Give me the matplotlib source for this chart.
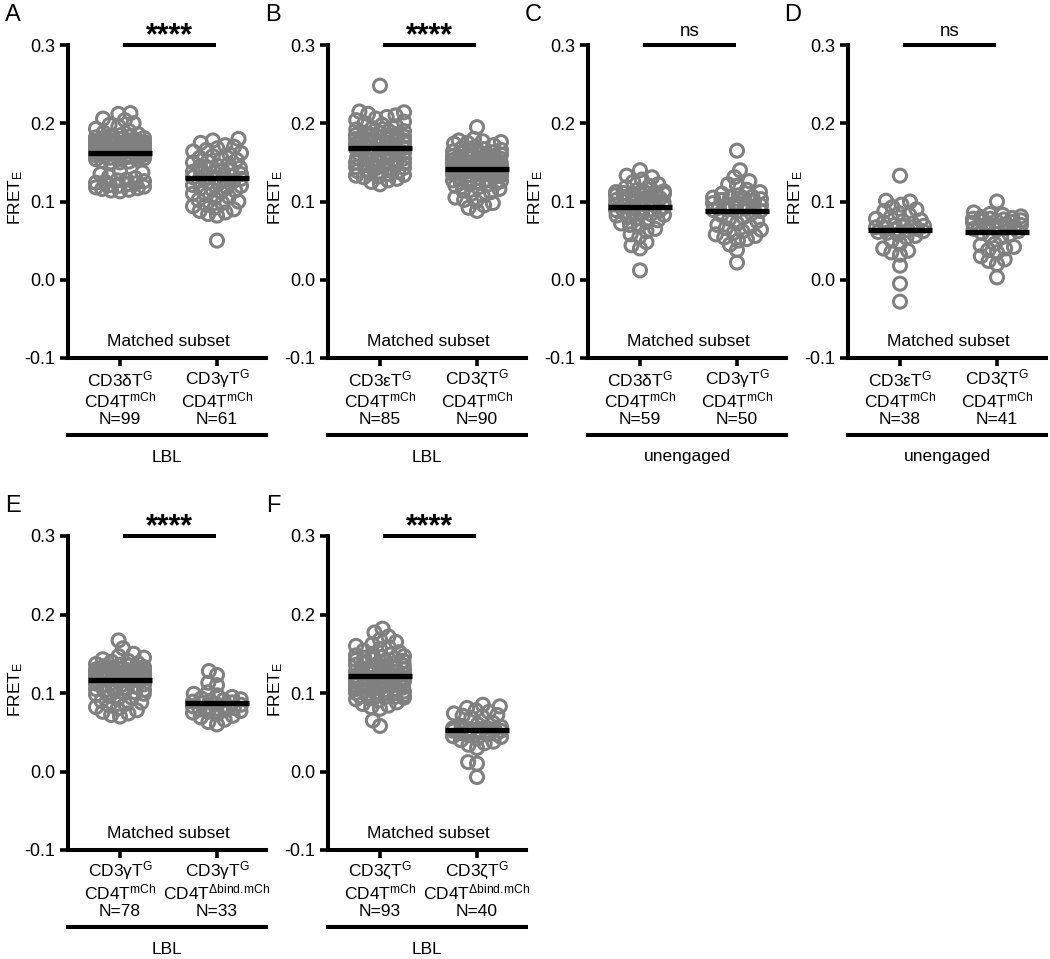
import matplotlib
matplotlib.use("Agg")
import matplotlib.pyplot as plt
import numpy as np

# ---------------------------------------------------------------------------
# Data (FRET efficiency per cell)
# ---------------------------------------------------------------------------
a_cd3d = [0.213, 0.212, 0.206, 0.204, 0.200, 0.198, 0.196, 0.193, 0.190, 0.188, 0.186, 0.185,
          0.184, 0.183, 0.182, 0.181, 0.180, 0.180, 0.179, 0.178, 0.178, 0.177, 0.176, 0.176,
          0.175, 0.175, 0.174, 0.173, 0.173, 0.172, 0.172, 0.171, 0.170, 0.170,
          0.169, 0.169, 0.168, 0.168, 0.167, 0.167, 0.166, 0.166, 0.165, 0.165, 0.164, 0.164,
          0.163, 0.163, 0.162, 0.162, 0.161, 0.161, 0.160, 0.160,
          0.159, 0.159, 0.158, 0.157, 0.157, 0.156, 0.155, 0.155, 0.154, 0.153, 0.152, 0.151,
          0.150, 0.150,
          0.175, 0.174, 0.172, 0.171, 0.170, 0.169, 0.168, 0.166, 0.165, 0.164,
          0.138, 0.137, 0.135, 0.132, 0.130, 0.128, 0.127, 0.126, 0.125, 0.124, 0.123, 0.122,
          0.121, 0.120, 0.119, 0.118, 0.117, 0.116, 0.115, 0.114, 0.113]
a_cd3g = [0.180, 0.178, 0.175, 0.172, 0.170, 0.168, 0.166, 0.164, 0.162, 0.160,
          0.158, 0.156, 0.155, 0.153, 0.151, 0.150, 0.148, 0.146, 0.145, 0.143, 0.142, 0.140,
          0.138, 0.137, 0.136, 0.135, 0.134, 0.133, 0.132, 0.131, 0.130, 0.129, 0.128, 0.127,
          0.126, 0.125,
          0.123, 0.121, 0.120, 0.118, 0.117, 0.115, 0.114, 0.112, 0.110, 0.108, 0.106, 0.104,
          0.102, 0.100,
          0.098, 0.096, 0.094, 0.092, 0.090, 0.088, 0.086, 0.084, 0.082, 0.050, 0.140]

b_cd3e = [0.248,
          0.215, 0.214, 0.212, 0.210, 0.208, 0.206, 0.204, 0.202, 0.200, 0.198,
          0.196, 0.194, 0.192, 0.190, 0.188, 0.186, 0.185, 0.184, 0.182, 0.181, 0.180, 0.179,
          0.178, 0.177, 0.176, 0.175, 0.174, 0.173, 0.172, 0.171, 0.170, 0.170, 0.169, 0.168,
          0.167, 0.166, 0.165, 0.164, 0.163, 0.162, 0.161, 0.160, 0.159, 0.158, 0.157, 0.156,
          0.155, 0.154, 0.153, 0.152, 0.151, 0.150, 0.149, 0.148, 0.147, 0.146, 0.145, 0.144,
          0.143, 0.142, 0.141, 0.140, 0.139, 0.138, 0.137, 0.136, 0.135, 0.134, 0.133, 0.132,
          0.131, 0.129, 0.127, 0.125, 0.122,
          0.190, 0.188, 0.185, 0.183, 0.182, 0.180, 0.178, 0.177, 0.175]
b_cd3z = [0.195,
          0.180, 0.178, 0.177, 0.176, 0.175, 0.174, 0.172, 0.170,
          0.168, 0.167, 0.166, 0.165, 0.164, 0.163, 0.162, 0.161, 0.160, 0.159, 0.158, 0.157,
          0.156, 0.155, 0.154, 0.153, 0.152, 0.151, 0.150, 0.149, 0.148, 0.147, 0.146, 0.145,
          0.144, 0.143, 0.142, 0.141, 0.140, 0.139, 0.138, 0.137, 0.136, 0.135, 0.134, 0.133,
          0.132, 0.131, 0.130, 0.129, 0.128, 0.127, 0.126, 0.125, 0.124, 0.123, 0.122, 0.121,
          0.120, 0.118, 0.116, 0.114, 0.112, 0.110,
          0.108, 0.105, 0.102, 0.100, 0.098, 0.095, 0.092, 0.088,
          0.160, 0.158, 0.155, 0.153, 0.150, 0.148, 0.146, 0.145, 0.144, 0.143, 0.142, 0.141,
          0.140, 0.139, 0.138, 0.137, 0.136, 0.135, 0.140]

c_cd3d = [0.140, 0.133, 0.131, 0.128, 0.125, 0.122, 0.120, 0.118,
          0.115, 0.113, 0.111, 0.110, 0.108, 0.107, 0.106, 0.105, 0.104, 0.103,
          0.102, 0.101, 0.100, 0.099, 0.098, 0.097, 0.096, 0.095, 0.094, 0.093,
          0.092, 0.091, 0.090, 0.089, 0.088, 0.087, 0.086, 0.085, 0.084, 0.083,
          0.082, 0.080, 0.078, 0.076, 0.074, 0.072, 0.070, 0.068,
          0.065, 0.062, 0.058, 0.055, 0.048, 0.044, 0.040, 0.012,
          0.112, 0.111, 0.110, 0.110, 0.111]
c_cd3g = [0.165, 0.140, 0.131, 0.126, 0.122, 0.120, 0.115, 0.112,
          0.110, 0.108, 0.106, 0.105, 0.104, 0.102, 0.100, 0.099, 0.098, 0.097,
          0.096, 0.095, 0.094, 0.093, 0.092, 0.091, 0.090, 0.089, 0.088, 0.087,
          0.085, 0.083, 0.080, 0.078, 0.075, 0.072, 0.070, 0.068, 0.066, 0.064,
          0.062, 0.060, 0.058, 0.056, 0.054, 0.052, 0.050, 0.045, 0.038, 0.022,
          0.105, 0.103]

d_cd3e = [0.133, 0.101, 0.100, 0.096, 0.093, 0.090, 0.088, 0.085,
          0.083, 0.080, 0.078, 0.076, 0.075, 0.073, 0.072, 0.070, 0.069, 0.068,
          0.067, 0.066, 0.065, 0.064, 0.063, 0.062, 0.061, 0.060, 0.058, 0.056,
          0.054, 0.050, 0.046, 0.040, 0.037, 0.035, 0.032, 0.018, -0.005, -0.028]
d_cd3z = [0.100, 0.086, 0.084, 0.083, 0.081, 0.080, 0.079, 0.078, 0.078, 0.077,
          0.076, 0.075, 0.075, 0.074, 0.073, 0.072, 0.071, 0.070, 0.069, 0.068,
          0.068, 0.067, 0.066, 0.065, 0.064, 0.062, 0.060, 0.058, 0.056, 0.054,
          0.046, 0.044, 0.042, 0.040, 0.038, 0.035, 0.030, 0.026, 0.024, 0.020, 0.003]

e_cd4 = [0.167, 0.157, 0.150, 0.147, 0.145, 0.143, 0.141, 0.140,
         0.138, 0.137, 0.136, 0.135, 0.134, 0.133, 0.132, 0.131, 0.130, 0.129,
         0.128, 0.127, 0.126, 0.125, 0.124, 0.123, 0.122, 0.121, 0.120, 0.119,
         0.118, 0.117, 0.116, 0.115, 0.114, 0.113, 0.112, 0.111, 0.110, 0.109,
         0.108, 0.107, 0.106, 0.105, 0.104, 0.103, 0.102, 0.101, 0.100, 0.099,
         0.098, 0.096, 0.094, 0.092, 0.090, 0.088, 0.086, 0.084, 0.082, 0.080,
         0.078, 0.076, 0.074, 0.072, 0.070,
         0.130, 0.129, 0.128, 0.127, 0.126, 0.125, 0.124, 0.123, 0.122, 0.121,
         0.120, 0.119, 0.118, 0.117, 0.129]
e_dbind = [0.128, 0.123, 0.113, 0.110, 0.101, 0.099, 0.097,
           0.095, 0.093, 0.092, 0.091, 0.090, 0.089, 0.088, 0.087, 0.086, 0.085,
           0.084, 0.083, 0.082, 0.081, 0.080, 0.079, 0.078, 0.077, 0.076, 0.075,
           0.073, 0.071, 0.069, 0.066, 0.063, 0.060]

f_cd4 = [0.182, 0.177, 0.172, 0.168, 0.165, 0.162, 0.160, 0.158, 0.156, 0.154,
         0.152, 0.150, 0.149, 0.148, 0.147, 0.146, 0.145, 0.144, 0.143, 0.142,
         0.141, 0.140, 0.139, 0.138, 0.137, 0.136, 0.135, 0.134, 0.133, 0.132,
         0.131, 0.130, 0.129, 0.128, 0.127, 0.126, 0.125, 0.124, 0.123, 0.122,
         0.121, 0.120, 0.119, 0.118, 0.117, 0.116, 0.115, 0.114, 0.113, 0.112,
         0.111, 0.110, 0.109, 0.108, 0.107, 0.106, 0.105, 0.104, 0.103, 0.102,
         0.101, 0.100, 0.099, 0.098, 0.097, 0.096, 0.095, 0.094, 0.093, 0.092,
         0.090, 0.088, 0.086, 0.084, 0.082, 0.080, 0.065, 0.058,
         0.130, 0.128, 0.126, 0.124, 0.122, 0.120, 0.118, 0.115, 0.112, 0.110,
         0.108, 0.105, 0.100, 0.097, 0.095]
f_dbind = [0.085, 0.083, 0.081, 0.078, 0.076, 0.074, 0.072, 0.071, 0.070, 0.068,
           0.062, 0.060, 0.058, 0.057, 0.056, 0.055, 0.054, 0.053, 0.052, 0.051,
           0.054, 0.053, 0.052, 0.051, 0.050, 0.049, 0.048, 0.047, 0.046, 0.045,
           0.044, 0.042, 0.040, 0.038, 0.036, 0.034, 0.030, 0.012, 0.010, -0.007]

panel_letters = ["A", "B", "C", "D", "E", "F"]
panel_data = [(a_cd3d, a_cd3g), (b_cd3e, b_cd3z), (c_cd3d, c_cd3g),
              (d_cd3e, d_cd3z), (e_cd4, e_dbind), (f_cd4, f_dbind)]
panel_sig = ["****", "****", "ns", "ns", "****", "****"]
panel_group = ["LBL", "LBL", "unengaged", "unengaged", "LBL", "LBL"]
panel_line1 = [("CD3δT", "CD3γT"), ("CD3εT", "CD3ζT"), ("CD3δT", "CD3γT"),
               ("CD3εT", "CD3ζT"), ("CD3γT", "CD3γT"), ("CD3ζT", "CD3ζT")]
panel_sup2 = [("mCh", "mCh")] * 4 + [("mCh", r"Δbind.\!mCh")] * 2
panel_n = [(99, 61), (85, 90), (59, 50), (38, 41), (78, 33), (93, 40)]

# ---------------------------------------------------------------------------
# Style
# ---------------------------------------------------------------------------
plt.rcParams.update({
    "font.family": "Liberation Sans",
    "mathtext.fontset": "custom",
    "mathtext.rm": "Liberation Sans",
    "mathtext.it": "Liberation Sans:italic",
    "mathtext.bf": "Liberation Sans:bold",
})
GRAY = "#808080"
W, H = 1050, 959
XUNIT = 97.0          # px per category unit
FS = 12.5


def fx(px):
    return px / W


def fy(py):
    return 1 - py / H


def swarm(vals, dist, yscale, lim=24.0):
    """Beeswarm offsets in px; within +-lim, overlap is minimised when unavoidable."""
    ys = np.asarray(vals) * yscale
    xs = np.zeros(len(ys))
    placed = []
    grid = list(np.linspace(-lim, lim, 41))
    for i in np.argsort(ys):
        y = ys[i]
        near = np.array([(px, py) for px, py in placed if abs(py - y) < dist]).reshape(-1, 2)
        cands = [0.0] + grid
        for px, py in near:
            dx = np.sqrt(dist ** 2 - (py - y) ** 2)
            cands += [c for c in (px - dx, px + dx) if abs(c) <= lim]
        cands = np.array(cands)
        if len(near):
            d = np.hypot(cands[:, None] - near[None, :, 0], y - near[None, :, 1])
            pen = np.clip(dist - d, 0, None).sum(axis=1)
        else:
            pen = np.zeros(len(cands))
        best = np.lexsort((np.abs(cands), np.round(pen, 4)))[0]
        xs[i] = cands[best]
        placed.append((cands[best], y))
    return xs


fig = plt.figure(figsize=(W / 100, H / 100), dpi=100)

for k in range(6):
    row, col = divmod(k, 4)
    left = 68 + 260 * col
    top, bottom = (45, 358) if row == 0 else (536, 850)
    width = 198
    ax = fig.add_axes([fx(left), fy(bottom), width / W, (bottom - top) / H])
    yscale = (bottom - top) / 0.4

    for j, vals in enumerate(panel_data[k]):
        offs = swarm(vals, 9.0, yscale) / XUNIT
        ax.scatter(j + offs, vals, s=88, facecolors="none", edgecolors=GRAY,
                   linewidths=2.2, zorder=2, clip_on=False)
        m = np.mean(vals)
        ax.plot([j - 0.33, j + 0.33], [m, m], color="black", lw=3.8,
                solid_capstyle="butt", zorder=3)

    ax.set_xlim(-52 / XUNIT, 1 + (width - 52 - XUNIT) / XUNIT)
    ax.set_ylim(-0.1, 0.3)
    ax.set_yticks([-0.1, 0.0, 0.1, 0.2, 0.3])
    ax.set_yticklabels(["-0.1", "0.0", "0.1", "0.2", "0.3"], fontsize=13)
    ax.set_xticks([0, 1])
    ax.set_xticklabels([])
    for s in ("top", "right"):
        ax.spines[s].set_visible(False)
    for s in ("left", "bottom"):
        ax.spines[s].set_linewidth(2.9)
    ax.tick_params(direction="out", length=6, width=2.6, pad=3)

    # significance bar
    ax.plot([0.03, 0.99], [0.3, 0.3], color="black", lw=2.9,
            solid_capstyle="butt", clip_on=False)
    if panel_sig[k] == "ns":
        ax.text(0.51, 0.3 + 9 / yscale, "ns", ha="center", va="baseline",
                fontsize=FS + 1)
    else:
        ax.text(0.51, 0.3 + 1 / yscale, "****", ha="center", va="baseline",
                fontsize=22, fontweight="bold")
    ax.text(0.5, -0.1 + 16 / yscale, "Matched subset", ha="center",
            va="center", fontsize=FS)

    # y label and panel letter
    fig.text(fx(left - 52), fy((top + bottom) / 2 - 4), r"FRET$_\mathregular{E}$",
             rotation=90, ha="center", va="center", fontsize=FS)
    fig.text(fx(left - 55), fy(top - 30), panel_letters[k], ha="center",
             va="center", fontsize=17)

    # category labels
    for j in range(2):
        cx = left + 52 + XUNIT * j
        fig.text(fx(cx), fy(bottom + 21),
                 panel_line1[k][j] + r"$^\mathregular{G}$",
                 ha="center", va="center", fontsize=FS)
        fig.text(fx(cx), fy(bottom + 42),
                 "CD4T$^\\mathregular{" + panel_sup2[k][j] + "}$",
                 ha="center", va="center", fontsize=FS)
        fig.text(fx(cx), fy(bottom + 61), f"N={panel_n[k][j]}",
                 ha="center", va="center", fontsize=FS)

    # condition line
    fig.add_artist(plt.Line2D([fx(left), fx(left + width)],
                              [fy(bottom + 77), fy(bottom + 77)],
                              color="black", lw=2.9))
    fig.text(fx(left + width / 2), fy(bottom + 99), panel_group[k],
             ha="center", va="center", fontsize=FS)

fig.savefig("out.png", dpi=100)
